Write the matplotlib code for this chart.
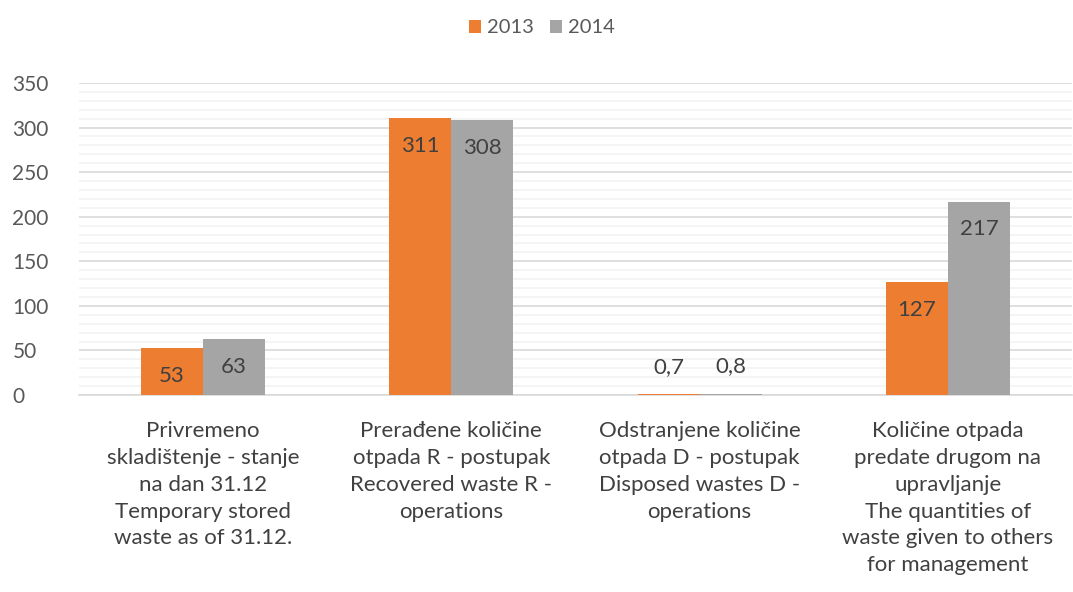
import numpy as np
import matplotlib.pyplot as plt
from matplotlib.ticker import MultipleLocator

categories = [
    "Privremeno\nskladištenje - stanje\nna dan 31.12\nTemporary stored\nwaste as of 31.12.",
    "Prerađene količine\notpada R - postupak\nRecovered waste R -\noperations",
    "Odstranjene količine\notpada D - postupak\nDisposed wastes D -\noperations",
    "Količine otpada\npredate drugom na\nupravljanje\nThe quantities of\nwaste given to others\nfor management",
]
v2013 = [53, 311, 0.7, 127]
v2014 = [63, 308, 0.8, 217]
lab2013 = ["53", "311", "0,7", "127"]
lab2014 = ["63", "308", "0,8", "217"]

plt.rcParams['font.family'] = ['Lato', 'DejaVu Sans']

fig = plt.figure(figsize=(10.73, 5.92), dpi=100)
ax = fig.add_axes([79 / 1073, 1 - 395 / 592, (1072 - 79) / 1073, (395 - 83) / 592])

x = np.arange(len(categories))
w = 0.25
b1 = ax.bar(x - w / 2, v2013, w, color="#ED7D31", label="2013", zorder=3)
b2 = ax.bar(x + w / 2, v2014, w, color="#A5A5A5", label="2014", zorder=3)

for bars, labs in ((b1, lab2013), (b2, lab2014)):
    for r, t in zip(bars, labs):
        h = r.get_height()
        cx = r.get_x() + r.get_width() / 2
        dy = -20 if h > 20 else 20
        ax.annotate(t, (cx, h), xytext=(0, dy), textcoords="offset points",
                    ha="center", va="center", fontsize=16, color="#404040", zorder=4)

ax.set_xlim(-0.5, 3.5)
ax.set_ylim(0, 350)
ax.yaxis.set_major_locator(MultipleLocator(50))
ax.yaxis.set_minor_locator(MultipleLocator(10))
ax.grid(axis="y", which="major", color="#D9D9D9", linewidth=1.2, zorder=0)
ax.grid(axis="y", which="minor", color="#F2F2F2", linewidth=1.2, zorder=0)
for s in ["top", "right", "left"]:
    ax.spines[s].set_visible(False)
ax.spines["bottom"].set_color("#D9D9D9")
ax.spines["bottom"].set_linewidth(1.2)
ax.tick_params(axis="y", which="both", length=0, labelsize=15, labelcolor="#595959", pad=48)
ax.tick_params(axis="x", length=0, labelsize=16, labelcolor="#404040", pad=19)
ax.set_xticks(x)
ax.set_xticklabels(categories, linespacing=1.42)
for lbl in ax.get_yticklabels():
    lbl.set_horizontalalignment("left")

fig.legend(handles=[b1, b2], loc="upper center", bbox_to_anchor=(0.505, 0.998), ncol=2,
           frameon=False, fontsize=14.5, handlelength=0.6, handleheight=0.6,
           handletextpad=0.3, columnspacing=0.8, labelcolor="#595959")

fig.savefig("out.png", dpi=100)
